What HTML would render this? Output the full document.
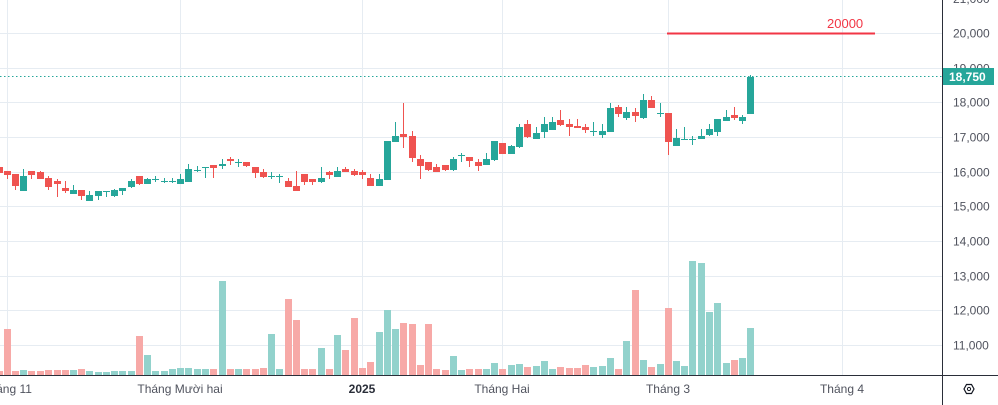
<!DOCTYPE html>
<html><head><meta charset="utf-8"><style>
html,body{margin:0;padding:0;background:#fff;}
svg{display:block;font-family:"Liberation Sans",sans-serif;}
</style></head><body>
<svg id="c" width="998" height="405" xmlns="http://www.w3.org/2000/svg">
<g id="grid" stroke="#e6ecf2" stroke-width="1"></g>
<g id="vol"></g>
<g id="cand"></g>
<line x1="0" y1="76.5" x2="942" y2="76.5" stroke="#26a69a" stroke-width="1" stroke-dasharray="1.5,2.5"/>
<line x1="667" y1="33.5" x2="875" y2="33.5" stroke="#f23645" stroke-width="2"/>
<text x="827" y="28" font-size="13" fill="#f23645">20000</text>
<rect x="0" y="375" width="998" height="30" fill="#fff"/>
<line x1="0" y1="375.5" x2="942" y2="375.5" stroke="#2a2e39" stroke-width="1"/>
<line x1="942.5" y1="0" x2="942.5" y2="405" stroke="#2a2e39" stroke-width="1"/>
<line x1="942" y1="375.5" x2="998" y2="375.5" stroke="#2a2e39" stroke-width="1"/>
<g id="yl" font-size="12" fill="#50535e"></g>
<rect x="943" y="68" width="51" height="17" fill="#26a69a"/>
<text x="949" y="81" font-size="12" font-weight="bold" fill="#fff">18,750</text>
<g font-size="12" fill="#50535e" text-anchor="middle">
<text x="7" y="393">Tháng 11</text>
<text x="180" y="393">Tháng Mười hai</text>
<text x="362" y="393" font-weight="bold" fill="#2a2e39">2025</text>
<text x="502" y="393">Tháng Hai</text>
<text x="668" y="393">Tháng 3</text>
<text x="842" y="393">Tháng 4</text>
</g>
<polygon points="964,389 966.5,384.5 971.5,384.5 974,389 971.5,393.5 966.5,393.5" fill="none" stroke="#131722" stroke-width="1.2"/>
<circle cx="969" cy="389" r="1.6" fill="none" stroke="#131722" stroke-width="1"/>
</svg>
<script>
var NS="http://www.w3.org/2000/svg";
function el(p,t,a){var e=document.createElementNS(NS,t);for(var k in a)e.setAttribute(k,a[k]);document.getElementById(p).appendChild(e);return e;}
// grid
for(var k=-1;k<=9;k++){var y=Math.round(33+k*34.67)+0.5;el('grid','line',{x1:0,x2:942,y1:y,y2:y});
 var v=20000-k*1000; if(y>5&&y<370){var t=el('yl','text',{x:953,y:y+4});t.textContent=(v/1000)+",000";}}
var t=el('yl','text',{x:953,y:3});t.textContent="21,000";
[7,180,362,502,668,842].forEach(function(x){el('grid','line',{x1:x+.5,x2:x+.5,y1:0,y2:375});});
var G="#26a69a",R="#ef5350";
// x, bodyTop, bodyBot, wickTop, wickBot, color
var C=[[-1,167,173,167,175,'r'],[7,171,175,171,179,'r'],[15,174,186,174,190,'r'],[23,176,191,169,191,'g'],[31,171,175,171,179,'r'],[40,172,179,171,179,'r'],[48,178,187,176,190,'r'],[57,181,184,179,197,'r'],[65,188,191,181,193,'r'],[73,190,194,185,194,'g'],[81,190,196,190,200,'r'],[89,195,201,191,201,'g'],[98,191,196,191,200,'g'],[106,191,192,191,197,'g'],[114,190,196,189,197,'g'],[122,188,191,188,195,'g'],[131,181,187,179,188,'g'],[139,176,184,176,185,'r'],[147,179,184,178,184,'g'],[155,179,180,176,182,'g'],[164,181,182,178,183,'g'],[172,181,182,178,183,'g'],[180,179,184,174,184,'g'],[188,169,182,164,182,'g'],[197,170,171,166,172,'g'],[205,167,168,167,178,'g'],[213,165,168,165,178,'r'],[222,164,166,159,169,'g'],[230,159,161,157,165,'r'],[238,162,163,159,167,'g'],[246,162,166,162,167,'r'],[255,167,173,167,178,'r'],[263,172,177,169,178,'r'],[271,176,177,172,179,'g'],[279,176,177,174,183,'g'],[288,181,187,178,187,'r'],[296,186,191,171,191,'r'],[304,174,182,174,185,'r'],[312,179,182,179,185,'r'],[321,178,182,167,183,'g'],[329,172,175,171,179,'r'],[337,171,177,167,177,'g'],[345,169,172,167,172,'r'],[354,171,175,169,176,'r'],[362,172,175,170,179,'r'],[370,178,186,174,186,'r'],[379,179,186,174,186,'g'],[387,141,180,141,180,'g'],[395,136,142,122,142,'g'],[403,134,137,103,148,'r'],[412,136,158,131,162,'r'],[420,159,166,155,179,'r'],[428,162,170,162,171,'r'],[436,167,172,164,172,'r'],[445,165,170,165,171,'r'],[453,159,170,157,171,'g'],[461,155,156,153,162,'g'],[469,157,161,157,167,'r'],[478,162,166,159,171,'r'],[486,159,165,153,165,'g'],[494,141,160,141,161,'g'],[502,143,154,143,154,'r'],[511,146,154,145,154,'g'],[519,127,147,124,148,'g'],[527,124,137,120,138,'r'],[536,133,139,127,139,'g'],[544,124,132,117,138,'g'],[552,122,130,117,130,'g'],[560,120,125,110,126,'r'],[569,124,127,119,136,'r'],[577,126,128,119,128,'r'],[585,127,130,124,133,'r'],[593,131,132,122,136,'g'],[602,131,135,124,138,'g'],[610,108,132,103,132,'g'],[618,107,114,105,117,'r'],[626,112,118,107,120,'g'],[635,112,116,108,122,'r'],[643,100,118,94,119,'g'],[651,100,108,96,108,'r'],[660,113,114,103,117,'g'],[668,113,142,113,155,'r'],[676,138,146,129,146,'g'],[684,139,140,127,140,'g'],[692,139,140,136,145,'g'],[701,136,139,129,139,'g'],[709,129,135,124,136,'g'],[717,119,132,119,136,'g'],[726,117,121,110,121,'g'],[734,115,118,107,120,'r'],[742,117,121,115,124,'g'],[750,77,114,75,114,'g']];
C.forEach(function(c){var col=c[5]=='g'?G:R;
 el('cand','rect',{x:c[0],y:c[3],width:1,height:c[4]-c[3],fill:col});
 el('cand','rect',{x:c[0]-3,y:c[1],width:7,height:Math.max(1,c[2]-c[1]),fill:col});});
// volume: x, top, color
var V=[[-1,371,'r'],[7,329,'r'],[15,371,'r'],[23,370,'g'],[31,371,'r'],[40,371,'r'],[48,370,'r'],[57,370,'r'],[65,370,'r'],[73,370,'g'],[81,369,'r'],[89,371,'g'],[98,372,'g'],[106,372,'g'],[114,371,'g'],[122,371,'g'],[131,371,'g'],[139,336,'r'],[147,355,'g'],[155,371,'g'],[164,371,'g'],[172,369,'g'],[180,368,'g'],[188,368,'g'],[197,369,'g'],[205,369,'g'],[213,369,'r'],[222,281,'g'],[230,369,'r'],[238,369,'g'],[246,369,'r'],[255,369,'r'],[263,368,'r'],[271,334,'g'],[279,369,'g'],[288,299,'r'],[296,320,'r'],[304,369,'r'],[312,369,'r'],[321,348,'g'],[329,369,'r'],[337,335,'g'],[345,350,'r'],[354,318,'r'],[362,368,'r'],[370,362,'r'],[379,332,'g'],[387,310,'g'],[395,329,'g'],[403,323,'r'],[412,324,'r'],[420,365,'r'],[428,324,'r'],[436,369,'r'],[445,370,'r'],[453,356,'g'],[461,370,'g'],[469,369,'r'],[478,369,'r'],[486,369,'g'],[494,363,'g'],[502,369,'r'],[511,365,'g'],[519,364,'g'],[527,367,'r'],[536,366,'g'],[544,361,'g'],[552,369,'g'],[560,367,'r'],[569,368,'r'],[577,368,'r'],[585,365,'r'],[593,367,'g'],[602,366,'g'],[610,358,'g'],[618,369,'r'],[626,341,'g'],[635,290,'r'],[643,360,'g'],[651,367,'r'],[660,364,'g'],[668,308,'r'],[676,361,'g'],[684,366,'g'],[692,261,'g'],[701,263,'g'],[709,312,'g'],[717,303,'g'],[726,363,'g'],[734,360,'r'],[742,358,'g'],[750,328,'g']];
V.forEach(function(v){el('vol','rect',{x:v[0]-3,y:v[1],width:7,height:375-v[1],fill:v[2]=='g'?'#92d2cc':'#f7a9a7'});});
</script>
</body></html>
